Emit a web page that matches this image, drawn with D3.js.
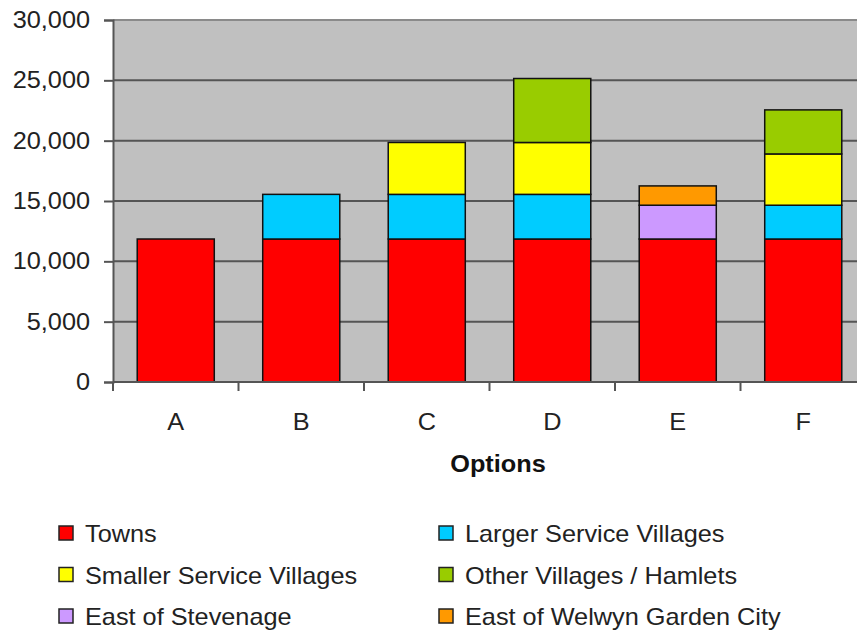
<!DOCTYPE html>
<html>
<head>
<meta charset="utf-8">
<script src="https://cdn.jsdelivr.net/npm/d3@7"></script>
<style>
  html, body { margin: 0; padding: 0; background: #fff; }
  svg { display: block; font-family: "Liberation Sans", Arial, sans-serif; }
</style>
</head>
<body>
<svg id="chart" width="857" height="632"></svg>
<script>
// Housing allocation by option, stacked by location type
const options = ["A", "B", "C", "D", "E", "F"];
const seriesNames = [
  "Towns",
  "Larger Service Villages",
  "Smaller Service Villages",
  "Other Villages / Hamlets",
  "East of Stevenage",
  "East of Welwyn Garden City"
];
const seriesColors = ["#ff0000", "#00ccff", "#ffff00", "#99cc00", "#cc99ff", "#ff9900"];

const towns          = [11850, 11850, 11850, 11850, 11850, 11850];
const largerVillages = [0, 3700, 3700, 3700, 0, 2800];
const smallerVillages= [0, 0, 4300, 4300, 0, 4250];
const otherVillages  = [0, 0, 0, 5300, 0, 3650];
const eastStevenage  = [0, 0, 0, 0, 2800, 0];
const eastWelwyn     = [0, 0, 0, 0, 1600, 0];

const yTicks = [0, 5000, 10000, 15000, 20000, 25000, 30000];

const seriesValues = [towns, largerVillages, smallerVillages, otherVillages, eastStevenage, eastWelwyn];
const rows = options.map((o, i) => {
  const r = { option: o };
  seriesNames.forEach((s, k) => { r[s] = seriesValues[k][i]; });
  return r;
});

// text is drawn slightly wide
const STRETCH = 1.1;
const placeText = (px, py) => `translate(${px},${py}) scale(${STRETCH},1)`;

const svg = d3.select("#chart");
const plot = { left: 113, right: 866, top: 20, bottom: 382 };

const x = d3.scaleBand()
  .domain(options)
  .range([plot.left, plot.right])
  .paddingInner(0.386)
  .paddingOuter(0.193);

const y = d3.scaleLinear()
  .domain([0, 30000])
  .range([plot.bottom, plot.top]);

// plot background
svg.append("rect")
  .attr("x", plot.left).attr("y", plot.top)
  .attr("width", plot.right - plot.left)
  .attr("height", plot.bottom - plot.top)
  .attr("fill", "#c0c0c0");

// horizontal gridlines
svg.append("g")
  .selectAll("line")
  .data(yTicks.filter(d => d > 0))
  .join("line")
  .attr("x1", plot.left).attr("x2", plot.right)
  .attr("y1", d => y(d)).attr("y2", d => y(d))
  .attr("stroke", d => d === 30000 ? "#8a8a8a" : "#555")
  .attr("stroke-width", 2);

// stacked bars
const stack = d3.stack().keys(seriesNames);
const layers = stack(rows);

svg.append("g")
  .selectAll("g")
  .data(layers)
  .join("g")
  .attr("fill", (d, i) => seriesColors[i])
  .selectAll("rect")
  .data(d => d.filter(p => p[1] - p[0] > 0))
  .join("rect")
  .attr("x", d => x(d.data.option))
  .attr("width", x.bandwidth())
  .attr("y", d => y(d[1]))
  .attr("height", d => y(d[0]) - y(d[1]))
  .attr("stroke", "#111")
  .attr("stroke-width", 1.5);

// y axis
const yAxis = svg.append("g")
  .attr("transform", `translate(${plot.left},0)`)
  .call(d3.axisLeft(y).tickValues(yTicks).tickSize(9).tickPadding(14)
    .tickFormat(d3.format(",")));
yAxis.select(".domain").attr("stroke", "#555").attr("stroke-width", 2);
yAxis.selectAll(".tick line").attr("stroke", "#555").attr("stroke-width", 2);
yAxis.selectAll(".tick text")
  .attr("x", 0)
  .attr("transform", placeText(-23, 0))
  .attr("font-size", 23)
  .attr("fill", "#222")
  .attr("font-family", "Liberation Sans, Arial, sans-serif");

// x axis: ticks at category boundaries
const xAxis = svg.append("g")
  .attr("transform", `translate(0,${plot.bottom})`);
xAxis.append("line")
  .attr("x1", plot.left).attr("x2", plot.right)
  .attr("stroke", "#555").attr("stroke-width", 2);
const bounds = options.map(o => x(o) - x.step() * x.paddingInner() / 2);
xAxis.selectAll(".bt")
  .data(bounds)
  .join("line")
  .attr("class", "bt")
  .attr("x1", d => d).attr("x2", d => d)
  .attr("y1", 0).attr("y2", 9)
  .attr("stroke", "#555").attr("stroke-width", 2);
xAxis.selectAll(".xl")
  .data(options)
  .join("text")
  .attr("class", "xl")
  .attr("transform", d => placeText(x(d) + x.bandwidth() / 2, 48))
  .attr("text-anchor", "middle")
  .attr("font-size", 23)
  .attr("fill", "#222")
  .text(d => d);

// axis title
svg.append("text")
  .attr("transform", placeText(498, 472))
  .attr("text-anchor", "middle")
  .attr("font-size", 23)
  .attr("font-weight", "bold")
  .attr("fill", "#111")
  .text("Options");

// legend, two columns
const legend = svg.append("g");
const legendItems = legend.selectAll("g")
  .data(seriesNames)
  .join("g")
  .attr("transform", (d, i) => {
    const col = i % 2, row = Math.floor(i / 2);
    return `translate(${col === 0 ? 59 : 439},${526 + row * 41.5})`;
  });
legendItems.append("rect")
  .attr("width", 14).attr("height", 14)
  .attr("fill", (d, i) => seriesColors[i])
  .attr("stroke", "#222").attr("stroke-width", 1.5);
legendItems.append("text")
  .attr("transform", placeText(26, 16))
  .attr("font-size", 23)
  .attr("fill", "#222")
  .text(d => d);
</script>
</body>
</html>
